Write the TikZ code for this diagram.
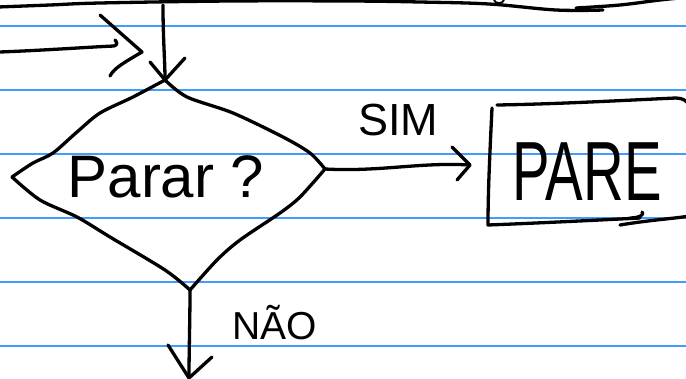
\documentclass[tikz,border=0pt]{standalone}
\usepackage{fontspec}
\usepackage{graphicx}
\setmainfont{Liberation Sans}
\definecolor{ruleblue}{RGB}{64,156,255}
\begin{document}
\begin{tikzpicture}[x=1pt,y=-1pt,
  ink/.style={line width=3.3pt, line cap=round, line join=round},
  rule/.style={draw=ruleblue, line width=1.3pt},
  lbl/.style={inner sep=0pt, anchor=base}]
\useasboundingbox (0,0) rectangle (686,378);

% ruled paper
\foreach \yy in {26,90,154,218,282,346}
  \draw[rule] (0,\yy) -- (686,\yy);

% key points of the flow
\coordinate (dtop)   at (165,80);
\coordinate (dright) at (325,169);
\coordinate (dbot)   at (190,290);
\coordinate (dleft)  at (12,177);
\coordinate (topsrc) at (163,5);
\coordinate (leftsrc) at (0,52);
\coordinate (lefttip) at (142,52);
\coordinate (simtip) at (470,165);
\coordinate (naoend) at (189,378);

% stroke along the top edge
\draw[ink] plot[smooth, tension=0.6] coordinates
  {(-2,7) (50,5) (100,3) (230,1) (350,1) (420,2) (489,4) (556,10) (603,10)};
\draw[ink] plot[smooth, tension=0.6] coordinates
  {(576,8) (620,5) (660,0) (690,-3)};
\draw[ink, line width=1.8pt] (494,0) .. controls (495,4) and (503,4) .. (504,0);

% decision outline
\draw[ink] plot[smooth, tension=0.5] coordinates
  {(165,80) (187,97) (233,113) (283,137) (310,153) (325,169)};
\draw[ink] plot[smooth, tension=0.5] coordinates
  {(325,169) (300,197) (280,213) (240,240) (217,260) (190,290)};
\draw[ink] plot[smooth, tension=0.5] coordinates
  {(190,290) (165,270) (110,237) (77,217) (40,200) (12,177)};
\draw[ink] plot[smooth, tension=0.5] coordinates
  {(12,177) (33,163) (53,153) (77,132) (100,113) (133,97) (165,80)};
\node[lbl, font=\fontsize{60}{60}\selectfont] (ask) at (166,197) {Parar ?};

% incoming arrow from above
\draw[ink] (topsrc) .. controls (163,40) and (165,60) .. (dtop);
\draw[ink] (150,62) -- (dtop) -- (185,58);

% incoming arrow from the left
\draw[ink] (leftsrc) .. controls (50,50) and (90,47) .. (114,46)
  .. controls (118,45) and (117,42) .. (115,40);
\draw[ink] (100,15) -- (lefttip) .. controls (125,62) and (114,68) .. (110,76);

% branch: yes
\draw[ink] (dright) .. controls (380,172) and (420,162) .. (simtip);
\draw[ink] (452,147) -- (simtip) -- (457,180);
\node[lbl, font=\fontsize{45}{45}\selectfont] (sim) at (398,135) {SIM};

% stop box
\draw[ink] (492,108) .. controls (490,150) and (488,190) .. (488,225)
  .. controls (540,223) and (600,220) .. (640,218);
\draw[ink] (630,218) .. controls (640,218) and (645,214) .. (642,212);
\draw[ink] (620,225) .. controls (650,220) and (670,219) .. (690,216);
\draw[ink] (497,105) .. controls (560,104) and (630,100) .. (676,98)
  .. controls (683,98) and (687,101) .. (690,106);
\node[lbl, font=\fontsize{84}{84}\selectfont] (pare) at (587,200) {\scalebox{0.67}[1]{PARE}};

% branch: no
\draw[ink] (dbot) .. controls (190,320) and (189,350) .. (naoend);
\draw[ink] (168,345) -- (naoend) -- (212,357);
\node[lbl, font=\fontsize{39}{39}\selectfont] (nao) at (275,339) {NÃO};

\end{tikzpicture}
\end{document}
